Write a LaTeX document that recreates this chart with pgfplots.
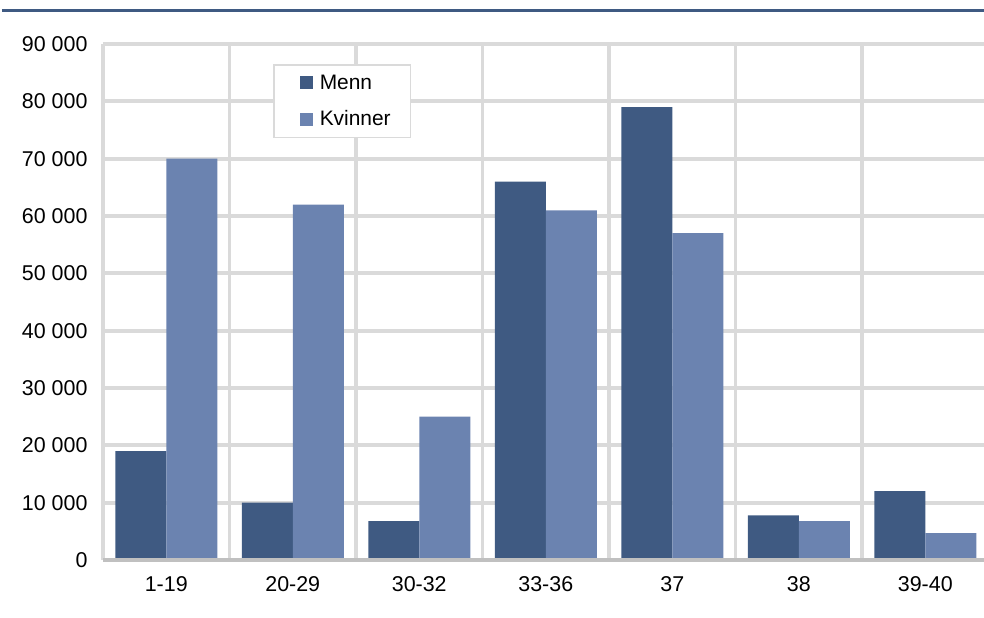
\documentclass[border=0pt]{standalone}
\usepackage{pgfplots}
\pgfplotsset{compat=1.18}
\usepackage{fontspec}
\setmainfont{Liberation Sans}
\definecolor{menn}{HTML}{3F5A82}
\definecolor{kvinner}{HTML}{6B83B0}
\definecolor{gridc}{HTML}{DADADA}
\definecolor{axisc}{HTML}{C0C0C0}
\definecolor{rulec}{HTML}{3F5A82}
\begin{document}
\begin{tikzpicture}
\useasboundingbox (-103bp,-58bp) rectangle (881bp,560bp);
\draw[rulec, line width=3bp] (-101bp,549bp) -- (881bp,549bp);
\begin{axis}[
  at={(0,0)}, anchor=south west,
  scale only axis, width=881bp, height=516bp,
  xmin=-0.5, xmax=6.464, ymin=0, ymax=90000,
  ybar=0pt, bar width=51bp,
  axis line style={draw=none},
  xtick={0,1,2,3,4,5,6},
  xticklabels={1-19,20-29,30-32,33-36,37,38,39-40},
  minor xtick={-0.5,0.5,1.5,2.5,3.5,4.5,5.5,6.5},
  ytick={0,10000,20000,30000,40000,50000,60000,70000,80000,90000},
  yticklabels={0,10 000,20 000,30 000,40 000,50 000,60 000,70 000,80 000,90 000},
  scaled y ticks=false,
  major tick length=0pt, minor tick length=0pt,
  xminorgrids=true, ymajorgrids=true, xmajorgrids=false,
  grid style={gridc, line width=3.8bp},
  minor grid style={gridc, line width=3.8bp},
  ticklabel style={font=\fontsize{21.5}{25}\selectfont, text=black},
  xticklabel style={yshift=-13bp},
  yticklabel style={xshift=-12bp},
  legend style={at={(0.193,0.961)}, anchor=north west, draw=gridc, line width=1.5bp,
    font=\fontsize{21}{25}\selectfont, inner xsep=0bp, inner ysep=8bp, row sep=16bp,
    legend cell align=left},
  clip=false,
]
\addplot[fill=menn, draw=none, legend image code/.code={\path[draw=none, fill=none, use as bounding box] (0bp,-1bp) rectangle (44bp,1bp); \path[draw=none, fill=menn] (26bp,-6.5bp) rectangle (39bp,6.5bp);}] coordinates {(0,19000) (1,10000) (2,6800) (3,66000) (4,79000) (5,7800) (6,12000)};
\addplot[fill=kvinner, draw=none, legend image code/.code={\path[draw=none, fill=none, use as bounding box] (0bp,-1bp) rectangle (44bp,1bp); \path[draw=none, fill=kvinner] (26bp,-6.5bp) rectangle (39bp,6.5bp);}] coordinates {(0,70000) (1,62000) (2,25000) (3,61000) (4,57000) (5,6800) (6,4700)};
\legend{Menn,Kvinner\hspace*{18bp}}
\draw[axisc, line width=3.8bp] (axis cs:-0.5,0) -- (axis cs:6.464,0);
\end{axis}
\end{tikzpicture}
\end{document}
